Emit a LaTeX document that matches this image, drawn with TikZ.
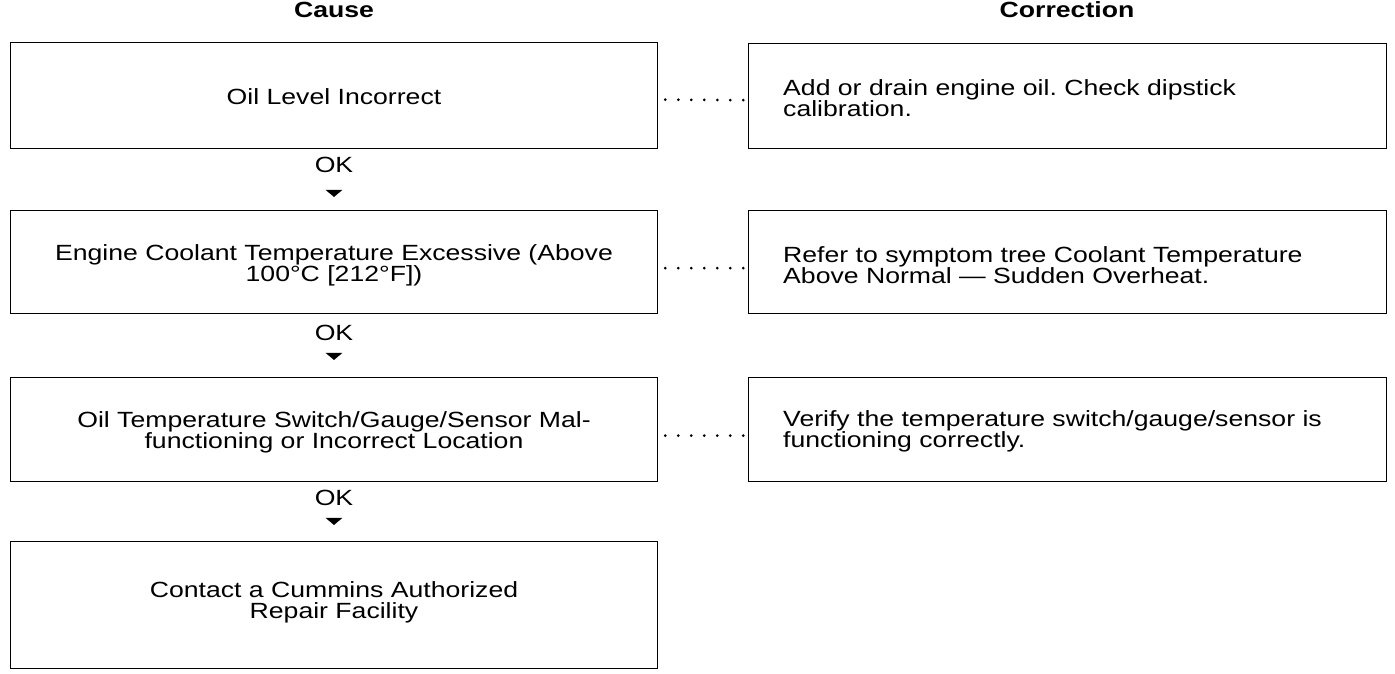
\documentclass[tikz,border=0pt]{standalone}
\usepackage{fontspec}
\setmainfont{Liberation Sans}[FakeStretch=1.21]
\usetikzlibrary{shapes.geometric}
\frenchspacing
\begin{document}
\begin{tikzpicture}[x=1pt,y=-1pt,
  causebox/.style={draw,line width=1.3pt,minimum width=647pt,anchor=north west,inner sep=0pt},
  fixbox/.style={draw,line width=1.3pt,minimum width=638pt,anchor=north west,inner sep=0pt},
  txt/.style={font=\fontsize{22}{21}\selectfont,inner sep=0pt},
  head/.style={font=\fontsize{22}{21}\selectfont\bfseries},
  oklabel/.style={font=\fontsize{22}{21}\selectfont,inner sep=0pt},
  tip/.style={isosceles triangle,isosceles triangle apex angle=100,shape border rotate=-90,fill,inner sep=0pt,minimum width=15pt,minimum height=7pt},
  dots/.style={line width=3pt,dash pattern=on 0pt off 13pt,line cap=round}]
\useasboundingbox (0,0) rectangle (1395,673);
\node[head] (hc) at (334,10) {Cause};
\node[head] (hr) at (1067,10) {Correction};
% cause boxes
\node[causebox,minimum height=106pt] (c1) at (10,42) {};
\node[txt] (l1) at (334,97) {Oil Level Incorrect};
\node[causebox,minimum height=103pt] (c2) at (10,210) {};
\node[txt,align=center] (l2) at (334,265) {Engine Coolant Temperature Excessive (Above\\100°C [212°F])};
\node[causebox,minimum height=104pt] (c3) at (10,377) {};
\node[txt,align=center] (l3) at (334,432) {Oil Temperature Switch/Gauge/Sensor Mal-\\functioning or Incorrect Location};
\node[causebox,minimum height=127pt] (c4) at (10,541) {};
\node[txt,align=center] (l4) at (334,602) {Contact a Cummins Authorized\\Repair Facility};
% correction boxes
\node[fixbox,minimum height=105pt] (r1) at (748,43) {};
\node[txt,anchor=west,align=left] (t1) at (783,98) {Add or drain engine oil. Check dipstick\\calibration.};
\node[fixbox,minimum height=103pt] (r2) at (748,210) {};
\node[txt,anchor=west,align=left] (t2) at (783,265) {Refer to symptom tree Coolant Temperature\\Above Normal --- Sudden Overheat.};
\node[fixbox,minimum height=104pt] (r3) at (748,377) {};
\node[txt,anchor=west,align=left] (t3) at (783,431) {Verify the temperature switch/gauge/sensor is\\functioning correctly.};
% OK labels and tips
\node[oklabel] (ok1) at (334,165) {OK};
\node[tip] (a1) at (334,193) {};
\node[oklabel] (ok2) at (334,333) {OK};
\node[tip] (a2) at (334,356) {};
\node[oklabel] (ok3) at (334,498) {OK};
\node[tip] (a3) at (334,521) {};
% dotted connectors
\draw[dots] ([xshift=7pt,yshift=-4pt]c1.east) -- ([xshift=-4pt,yshift=-4pt]r1.west);
\draw[dots] ([xshift=7pt,yshift=-6pt]c2.east) -- ([xshift=-4pt,yshift=-6pt]r2.west);
\draw[dots] ([xshift=7pt,yshift=-6pt]c3.east) -- ([xshift=-4pt,yshift=-6pt]r3.west);
\end{tikzpicture}
\end{document}
